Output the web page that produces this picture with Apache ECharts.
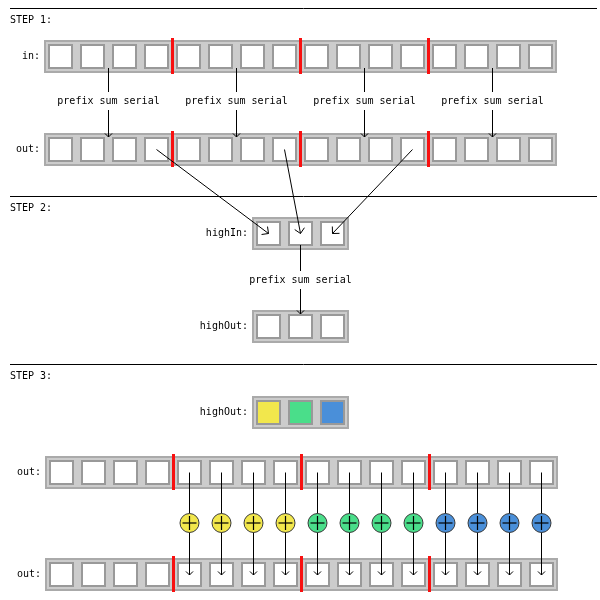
<!DOCTYPE html>
<html>
<head>
<meta charset="utf-8">
<script src="https://cdn.jsdelivr.net/npm/echarts@6/dist/echarts.min.js"></script>
<style>
  html, body { margin: 0; padding: 0; background: #fff; }
  #chart { width: 600px; height: 600px; }
</style>
</head>
<body>
<div id="chart"></div>
<script>
// 图的内容
const blockCount = 4;        // 每行分成几块
const cellsPerBlock = 4;     // 每块几个格子
const stepTitles = ['STEP 1:', 'STEP 2:', 'STEP 3:'];
const rowLabels = ['in:', 'out:', 'highIn:', 'highOut:', 'highOut:', 'out:', 'out:'];
const opText = 'prefix sum serial';
const highColors = ['#f2e74c', '#4ade8a', '#4a8fd9'];

// 布局
const PITCH = 32, CELL = 25, PAD = 4, BOX_H = 33;
const FONT = '10px "DejaVu Sans Mono", "Liberation Mono", monospace';
const nFull = blockCount * cellsPerBlock;
const nHigh = blockCount - 1;
const rows = [
  { x: 48, y: 40, n: nFull, split: true },
  { x: 48, y: 133, n: nFull, split: true },
  { x: 256, y: 217, n: nHigh },
  { x: 256, y: 310, n: nHigh },
  { x: 256, y: 396, n: nHigh, colors: highColors },
  { x: 49, y: 456, n: nFull, split: true },
  { x: 49, y: 558, n: nFull, split: true }
];
const sepY = [8.5, 196.5, 364.5];

const cellCenter = (r, i) => [r.x + i * PITCH + CELL / 2, r.y + PAD + CELL / 2];

// 方框
const rects = [];
rows.forEach(r => {
  const w = PAD + (r.n - 1) * PITCH + CELL + PAD;
  rects.push({ v: [r.x - PAD, r.y, w, BOX_H], fill: '#cccccc', stroke: '#aaaaaa', lw: 2 });
  for (let i = 0; i < r.n; i++) {
    rects.push({ v: [r.x + i * PITCH, r.y + PAD, CELL, CELL],
      fill: r.colors ? r.colors[i] : '#ffffff', stroke: '#999999', lw: 2 });
  }
  if (r.split) {
    for (let k = 1; k < blockCount; k++) {
      rects.push({ v: [r.x + k * cellsPerBlock * PITCH - 5, r.y - 2, 3, BOX_H + 3],
        fill: '#f81010', stroke: null, lw: 0 });
    }
  }
});

// 箭头和分隔线
const lines = [];
const texts = [];
sepY.forEach((y, s) => {
  lines.push({ v: [10, y, 597, y], head: 0 });
  texts.push({ v: [10, y + 11.5], text: stepTitles[s], align: 'left' });
});
rows.forEach((r, ri) => {
  texts.push({ v: [r.x - PAD - 4, r.y + BOX_H / 2], text: rowLabels[ri], align: 'right' });
});
// step 1
for (let k = 0; k < blockCount; k++) {
  const cx = rows[0].x + k * cellsPerBlock * PITCH + ((cellsPerBlock - 1) * PITCH + CELL) / 2;
  lines.push({ v: [cx, rows[0].y + 28, cx, rows[1].y + PAD], head: 5 });
  texts.push({ v: [cx, rows[0].y + 61], text: opText, align: 'center', bg: true });
}
// step 2
for (let k = 0; k < nHigh; k++) {
  const a = cellCenter(rows[1], k * cellsPerBlock + cellsPerBlock - 1);
  const b = cellCenter(rows[2], k);
  lines.push({ v: [a[0], a[1], b[0], b[1]], head: 7 });
}
{
  const cx = cellCenter(rows[2], 1)[0];
  lines.push({ v: [cx, rows[2].y + 28, cx, rows[3].y + PAD], head: 5 });
  texts.push({ v: [cx, rows[2].y + 63], text: opText, align: 'center', bg: true });
}
// step 3
const circles = [];
for (let i = cellsPerBlock; i < nFull; i++) {
  const a = cellCenter(rows[5], i);
  const b = cellCenter(rows[6], i);
  lines.push({ v: [a[0], a[1], b[0], b[1] + 0.5], head: 5 });
  circles.push({ v: [a[0], 523], color: highColors[Math.floor(i / cellsPerBlock) - 1] });
}

const chart = echarts.init(document.getElementById('chart'));

const option = {
  animation: false,
  backgroundColor: '#ffffff',
  grid: { left: 0, right: 0, top: 0, bottom: 0 },
  xAxis: { type: 'value', min: 0, max: 600, show: false },
  yAxis: { type: 'value', min: 0, max: 600, inverse: true, show: false },
  series: [
    {
      type: 'custom',
      z: 1,
      data: rects.map(d => d.v),
      renderItem: function (params, api) {
        const d = rects[params.dataIndex];
        const p0 = api.coord([api.value(0), api.value(1)]);
        const p1 = api.coord([api.value(0) + api.value(2), api.value(1) + api.value(3)]);
        const h = d.lw / 2;
        return {
          type: 'rect',
          shape: { x: p0[0] + h, y: p0[1] + h, width: p1[0] - p0[0] - d.lw, height: p1[1] - p0[1] - d.lw },
          style: { fill: d.fill, stroke: d.stroke, lineWidth: d.lw }
        };
      }
    },
    {
      type: 'custom',
      z: 2,
      data: lines.map(d => d.v),
      renderItem: function (params, api) {
        const d = lines[params.dataIndex];
        const a = api.coord([api.value(0), api.value(1)]);
        const b = api.coord([api.value(2), api.value(3)]);
        const children = [{
          type: 'line',
          shape: { x1: a[0], y1: a[1], x2: b[0], y2: b[1] },
          style: { stroke: '#000', lineWidth: 1 }
        }];
        if (d.head) {
          const len = Math.hypot(b[0] - a[0], b[1] - a[1]);
          const ux = (b[0] - a[0]) / len, uy = (b[1] - a[1]) / len;
          const L = d.head, t = Math.PI / 4;
          const arm = s => [b[0] - L * (ux * Math.cos(t) - s * uy * Math.sin(t)),
                            b[1] - L * (uy * Math.cos(t) + s * ux * Math.sin(t))];
          children.push({
            type: 'polyline',
            shape: { points: [arm(1), b, arm(-1)] },
            style: { stroke: '#000', lineWidth: 1, fill: null }
          });
        }
        return { type: 'group', children };
      }
    },
    {
      type: 'custom',
      z: 3,
      data: circles.map(d => d.v),
      renderItem: function (params, api) {
        const d = circles[params.dataIndex];
        const c = api.coord([api.value(0), api.value(1)]);
        const r = 9.5, p = 7;
        return {
          type: 'group',
          children: [
            { type: 'circle', shape: { cx: c[0], cy: c[1], r },
              style: { fill: d.color, stroke: '#3a3a3a', lineWidth: 1 } },
            { type: 'line', shape: { x1: c[0] - p, y1: c[1], x2: c[0] + p, y2: c[1] },
              style: { stroke: '#000', lineWidth: 1.2 } },
            { type: 'line', shape: { x1: c[0], y1: c[1] - p, x2: c[0], y2: c[1] + p },
              style: { stroke: '#000', lineWidth: 1.2 } }
          ]
        };
      }
    },
    {
      type: 'custom',
      z: 4,
      data: texts.map(d => d.v),
      renderItem: function (params, api) {
        const d = texts[params.dataIndex];
        const c = api.coord([api.value(0), api.value(1)]);
        return {
          type: 'text',
          style: {
            x: c[0], y: c[1], text: d.text, font: FONT, fill: '#000',
            align: d.align, verticalAlign: 'middle',
            backgroundColor: d.bg ? '#fff' : null,
            padding: d.bg ? [4, 3] : 0
          }
        };
      }
    }
  ]
};

chart.setOption(option);
window.addEventListener('resize', () => chart.resize());
</script>
</body>
</html>
